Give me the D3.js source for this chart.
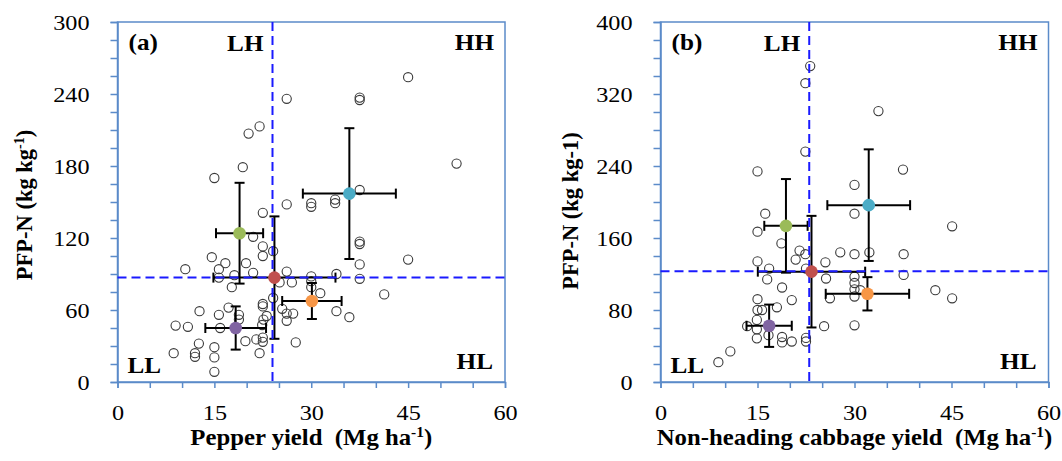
<!DOCTYPE html>
<html><head><meta charset="utf-8">
<script src="https://cdn.jsdelivr.net/npm/d3@7"></script>
<style>
html,body{margin:0;padding:0;background:#fff;}
text{font-family:"Liberation Serif","Times New Roman",serif;fill:#000;}
</style></head>
<body><svg id="chart" width="1062" height="461"></svg>
<script>
// ---------------- DATA ----------------
const pepperX = [26.2,22.0,20.3,19.4,15.0,26.2,30.0,30.0,45.0,37.5,37.5,52.5,37.5,33.7,33.7,37.5,37.5,37.5,45.0,37.5,33.9,30.0,30.0,30.0,31.4,41.3,33.9,35.9,22.5,21.0,22.5,22.5,24.1,14.6,16.7,19.9,10.5,15.7,15.7,18.1,21.0,26.2,27.0,25.1,17.7,24.1,22.5,22.5,17.2,12.7,15.7,18.8,18.8,23.1,25.5,26.2,27.2,26.2,22.6,22.4,15.9,9.0,10.9,19.8,21.5,22.5,22.5,27.6,12.6,12.0,12.0,8.7,15.0,15.0,22.0,15.0];
const pepperY = [236,213,207,179,170,148,149,146,254,237,235,182,160,152,149,117,115,98,102,86,90,88,84,79,74,73,59,54,141,121,113,105,109,104,99,99,94,94,87,89,91,92,83,83,79,70,65,63,62,59,56,56,52,55,61,57,57,51,52,47.5,45,47,46,34,35.5,37,33.5,33,32,24,21,24,29,20.5,24,8.5];

const cabbageX = [23.15,22.4,22.4,15.0,30.0,33.7,37.5,30.0,45.1,30.0,32.3,37.6,30.0,30.0,30.0,30.0,30.9,37.6,42.5,45.1,30.0,16.2,15.0,18.7,21.5,22.4,20.9,27.8,25.5,15.0,16.8,22.5,16.5,25.6,18.8,26.2,20.3,15.0,18.0,15.0,15.7,14.9,13.4,14.9,14.9,16.7,18.8,18.8,20.3,22.5,22.5,25.3,10.8,8.95];
const cabbageY = [351,332,256,234,219,301,236,187,173,142,144,142,117,110,103,95,102,119,102,93,63,187,167,154,146,142,136,144,133,134,126,126,114,115,105,93,91,92,83,80,80,69,62,58.5,48.5,52,50,44,45,49,45,62,34,22];

const groupNames  = ["green","red","orange","purple","cyan"];
const groupColors = ["#9BBB59","#C0504D","#F79646","#8064A2","#4BACC6"];

const pepperMeanX = [18.9,24.3,30.1,18.3,35.9];
const pepperErrX  = [3.65,9.45,4.6,4.7,7.2];
const pepperMeanY = [124,87,67.5,45,157];
const pepperErrY  = [42,51,15,18,54.5];

const cabbageMeanX = [19.4,23.35,32.0,16.8,32.2];
const cabbageErrX  = [3.35,8.3,6.45,3.5,6.4];
const cabbageMeanY = [173.5,122.6,98,62.5,196.5];
const cabbageErrY  = [52,62,18.5,23.5,62];

const pepperRefX = 24.0, pepperRefY = 87;
const cabbageRefX = 23.0, cabbageRefY = 123;

const xTicks = [0,15,30,45,60];
const yTicksA = [0,60,120,180,240,300];
const yTicksB = [0,80,160,240,320,400];

// ---------------- DRAW ----------------
const svg = d3.select("#chart");
const AXIS = "#5B8BC9";
const SX = 1.1;   // horizontal stretch of the original typography

function panel(o){
  const g = svg.append("g");
  const x = d3.scaleLinear().domain([0,60]).range([o.x0,o.x1]);
  const y = d3.scaleLinear().domain([0,o.ymax]).range([o.y1,o.y0]);

  g.append("rect").attr("x",o.x0).attr("y",o.y0).attr("width",o.x1-o.x0).attr("height",o.y1-o.y0)
    .attr("fill","none").attr("stroke",AXIS).attr("stroke-width",1.5);

  const ya = g.append("g").attr("transform",`translate(${o.x0},0)`)
    .call(d3.axisLeft(y).tickValues(d3.range(0,o.ymax+0.001,o.ymax/20)).tickSize(7).tickPadding(o.ypad)
      .tickFormat(d=> o.yLabels.includes(Math.round(d)) ? d3.format("d")(d) : ""));
  ya.select(".domain").attr("stroke",AXIS).attr("stroke-width",1.5);
  ya.selectAll(".tick line").attr("stroke",AXIS).attr("stroke-width",1.5);
  ya.selectAll(".tick text").attr("font-size",22).attr("font-family","Liberation Serif").attr("fill","#000")
    .attr("x",-(7+o.ypad)/SX).attr("transform",`scale(${SX},1)`);

  const xa = g.append("g").attr("transform",`translate(0,${o.y1})`)
    .call(d3.axisBottom(x).tickValues(d3.range(0,60.001,5)).tickSize(6).tickPadding(16)
      .tickFormat(d=> xTicks.includes(Math.round(d)) ? d3.format("d")(d) : ""));
  xa.select(".domain").attr("stroke",AXIS).attr("stroke-width",1.5);
  xa.selectAll(".tick line").attr("stroke",AXIS).attr("stroke-width",1.5);
  xa.selectAll(".tick text").attr("font-size",22).attr("font-family","Liberation Serif").attr("fill","#000")
    .attr("transform",`scale(${SX},1)`);

  g.append("g").selectAll("circle").data(o.px.map((v,i)=>[v,o.py[i]])).join("circle")
    .attr("cx",d=>x(d[0])).attr("cy",d=>y(d[1])).attr("r",4.6)
    .attr("fill","none").attr("stroke","#3a3a3a").attr("stroke-width",1.1);

  const eb = g.append("g").attr("stroke","#000").attr("stroke-width",2).attr("fill","none");
  const cap = 5;
  o.mx.forEach((mx,i)=>{
    const my=o.my[i], ex=o.ex[i], ey=o.ey[i];
    eb.append("line").attr("x1",x(mx-ex)).attr("x2",x(mx+ex)).attr("y1",y(my)).attr("y2",y(my));
    eb.append("line").attr("x1",x(mx-ex)).attr("x2",x(mx-ex)).attr("y1",y(my)-cap).attr("y2",y(my)+cap);
    eb.append("line").attr("x1",x(mx+ex)).attr("x2",x(mx+ex)).attr("y1",y(my)-cap).attr("y2",y(my)+cap);
    eb.append("line").attr("x1",x(mx)).attr("x2",x(mx)).attr("y1",y(my-ey)).attr("y2",y(my+ey));
    eb.append("line").attr("x1",x(mx)-cap).attr("x2",x(mx)+cap).attr("y1",y(my-ey)).attr("y2",y(my-ey));
    eb.append("line").attr("x1",x(mx)-cap).attr("x2",x(mx)+cap).attr("y1",y(my+ey)).attr("y2",y(my+ey));
  });

  g.append("line").attr("x1",x(o.rx)).attr("x2",x(o.rx)).attr("y1",o.y0).attr("y2",o.y1)
    .attr("stroke","#1a1aff").attr("stroke-width",2).attr("stroke-dasharray","9,5");
  g.append("line").attr("x1",o.x0).attr("x2",o.x1).attr("y1",y(o.ry)).attr("y2",y(o.ry))
    .attr("stroke","#1a1aff").attr("stroke-width",2).attr("stroke-dasharray","9,5");

  g.append("g").selectAll("circle").data(o.mx.map((v,i)=>[v,o.my[i],groupColors[i]])).join("circle")
    .attr("cx",d=>x(d[0])).attr("cy",d=>y(d[1])).attr("r",6.3).attr("fill",d=>d[2]);

  const lab = (t,xx,yy,anchor)=>g.append("text")
     .attr("transform",`translate(${xx},${yy}) scale(1.12,1)`).attr("text-anchor",anchor)
     .attr("font-size",22.5).attr("font-weight","bold").text(t);
  lab(o.tag,o.x0+11,50,"start");
  lab("LH",x(o.rx)-9,51,"end");
  lab("HH",o.x1-11,50,"end");
  lab("LL",o.x0+10,373,"start");
  lab("HL",o.x1-12,369,"end");

  const xt = g.append("text").attr("transform",`translate(${(o.x0+o.x1)/2},445) scale(${SX},1)`)
    .attr("text-anchor","middle").attr("font-size",22.5).attr("font-weight","bold");
  xt.append("tspan").text(o.xtitle+"\u00a0 (Mg ha");
  xt.append("tspan").attr("dy",-8.5).attr("font-size",14).text("-1");
  xt.append("tspan").attr("dy",8.5).text(")");

  const yt = g.append("text").attr("transform",`translate(${o.ytx},${o.ytc}) rotate(-90)`)
    .attr("text-anchor","middle").attr("font-size",22.5).attr("font-weight","bold");
  if(o.ysup){
    yt.append("tspan").text("PFP-N (kg kg");
    yt.append("tspan").attr("dy",-8.5).attr("font-size",14).text("-1");
    yt.append("tspan").attr("dy",8.5).text(")");
  } else {
    yt.text("PFP-N (kg kg-1)");
  }
}

panel({x0:117.5,x1:505,y0:22,y1:382,ymax:300,yLabels:yTicksA,ypad:21,
  px:pepperX,py:pepperY,mx:pepperMeanX,my:pepperMeanY,ex:pepperErrX,ey:pepperErrY,
  rx:pepperRefX,ry:pepperRefY,tag:"(a)",xtitle:"Pepper yield",ytx:32,ytc:205,ysup:true});
panel({x0:660.5,x1:1048.5,y0:22,y1:382,ymax:400,yLabels:yTicksB,ypad:21,
  px:cabbageX,py:cabbageY,mx:cabbageMeanX,my:cabbageMeanY,ex:cabbageErrX,ey:cabbageErrY,
  rx:cabbageRefX,ry:cabbageRefY,tag:"(b)",xtitle:"Non-heading cabbage yield",ytx:578,ytc:211,ysup:false});
</script></body></html>
